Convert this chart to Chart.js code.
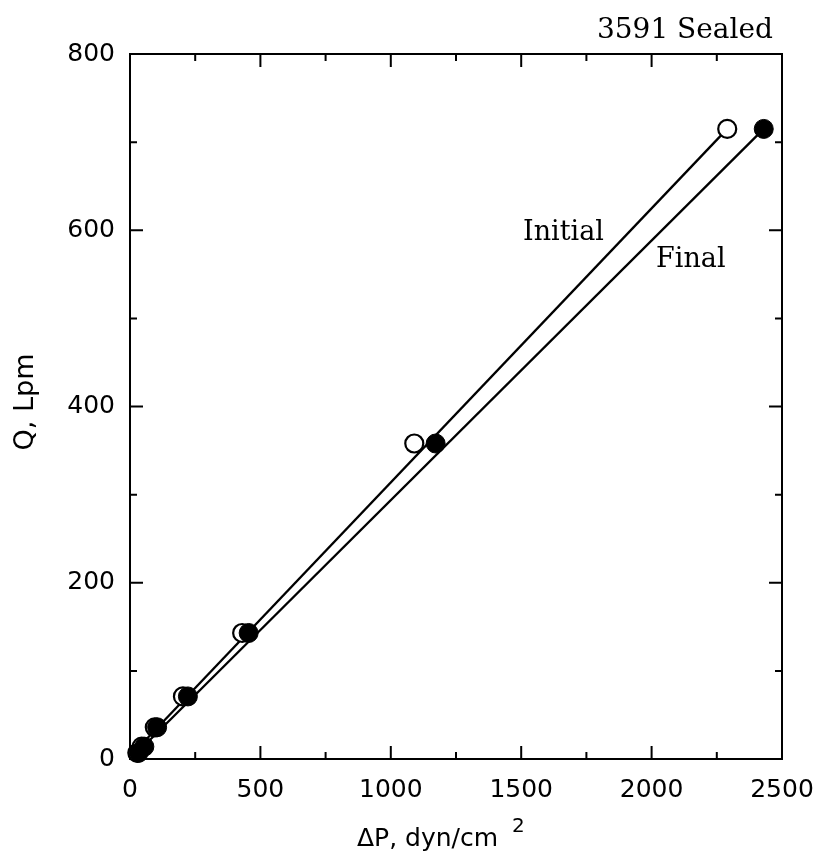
<!DOCTYPE html>
<html>
<head>
<meta charset="utf-8">
<script src="https://cdn.jsdelivr.net/npm/chart.js@4"></script>
<style>
  html, body { margin: 0; padding: 0; background: #fff; }
  #wrap { width: 821px; height: 855px; }
</style>
</head>
<body>
<div id="wrap"><canvas id="chart" width="821" height="855"></canvas></div>
<script>
// flow vs pressure drop
const flowQ = [7, 14, 36, 71, 143, 358, 715];
const initialDP = [28, 45, 95, 203, 430, 1090, 2290];
const finalDP = [33, 55, 104, 222, 455, 1172, 2430];

// straight-line fits, two end points each
const initialFitDP = [20, 2290];
const initialFitQ = [9, 715];
const finalFitDP = [30, 2430];
const finalFitQ = [8, 715];

const xTicks = [0, 500, 1000, 1500, 2000, 2500];
const yTicks = [0, 200, 400, 600, 800];

const pts = (xs, ys) => xs.map((v, i) => ({ x: v, y: ys[i] }));

const SANS = '"DejaVu Sans", sans-serif';
const SERIF = '"DejaVu Serif", serif';

// box, inward ticks on all four sides
const frame = {
  id: 'frame',
  beforeDatasetsDraw(chart) {
    const { ctx, chartArea: a, scales: { x, y } } = chart;
    ctx.save();
    ctx.strokeStyle = '#000';
    ctx.lineWidth = 2;
    ctx.strokeRect(a.left, a.top, a.right - a.left, a.bottom - a.top);
    ctx.beginPath();
    for (let v = 0; v <= 2500; v += 250) {
      const px = x.getPixelForValue(v);
      const len = xTicks.includes(v) ? 13 : 7;
      ctx.moveTo(px, a.bottom); ctx.lineTo(px, a.bottom - len);
      ctx.moveTo(px, a.top); ctx.lineTo(px, a.top + len);
    }
    for (let v = 0; v <= 800; v += 100) {
      const py = y.getPixelForValue(v);
      const len = yTicks.includes(v) ? 13 : 7;
      ctx.moveTo(a.left, py); ctx.lineTo(a.left + len, py);
      ctx.moveTo(a.right, py); ctx.lineTo(a.right - len, py);
    }
    ctx.stroke();
    ctx.restore();
  }
};

const labels = {
  id: 'labels',
  afterDraw(chart) {
    const { ctx, chartArea: a, scales: { x, y } } = chart;
    ctx.save();
    ctx.fillStyle = '#000';

    // axis titles
    ctx.font = '25px ' + SANS;
    ctx.textAlign = 'left';
    ctx.textBaseline = 'alphabetic';
    const xt = 'ΔP, dyn/cm';
    const w = ctx.measureText(xt).width;
    ctx.fillText(xt, 357, 846);
    ctx.font = '20px ' + SANS;
    ctx.fillText('2', 357 + w + 14, 832);

    ctx.font = '27px ' + SANS;
    ctx.translate(33, 402);
    ctx.rotate(-Math.PI / 2);
    ctx.textAlign = 'center';
    ctx.fillText('Q, Lpm', 0, 0);
    ctx.setTransform(1, 0, 0, 1, 0, 0);

    // annotations
    ctx.font = '28px ' + SERIF;
    ctx.textAlign = 'right';
    ctx.fillText('3591 Sealed', 773, 38);
    ctx.font = '27px ' + SERIF;
    ctx.textAlign = 'left';
    ctx.fillText('Initial', x.getPixelForValue(1507), y.getPixelForValue(589));
    ctx.fillText('Final', x.getPixelForValue(2017), y.getPixelForValue(558));
    ctx.restore();
  }
};

new Chart(document.getElementById('chart'), {
  type: 'scatter',
  data: {
    datasets: [
      {
        label: 'Final',
        data: pts(finalDP, flowQ),
        pointRadius: 9.5,
        pointBackgroundColor: '#000',
        pointBorderColor: '#000',
        pointBorderWidth: 1,
        clip: false
      },
      {
        label: 'Initial',
        data: pts(initialDP, flowQ),
        pointRadius: 9,
        pointBackgroundColor: '#fff',
        pointBorderColor: '#000',
        pointBorderWidth: 2.2,
        clip: false
      },
      {
        label: 'Initial fit',
        data: pts(initialFitDP, initialFitQ),
        showLine: true,
        pointRadius: 0,
        borderColor: '#000',
        borderWidth: 2.3
      },
      {
        label: 'Final fit',
        data: pts(finalFitDP, finalFitQ),
        showLine: true,
        pointRadius: 0,
        borderColor: '#000',
        borderWidth: 2.3
      }
    ]
  },
  options: {
    responsive: false,
    animation: false,
    layout: { padding: { top: 54, right: 39, left: 0, bottom: 0 } },
    plugins: {
      legend: { display: false },
      tooltip: { enabled: false }
    },
    scales: {
      x: {
        type: 'linear',
        min: 0,
        max: 2500,
        afterBuildTicks: s => { s.ticks = xTicks.map(v => ({ value: v })); },
        afterFit: s => { s.height = 96; s.paddingLeft = 0; s.paddingRight = 0; },
        grid: { display: false, drawTicks: false },
        border: { display: false },
        ticks: {
          color: '#000', padding: 16, font: { family: SANS, size: 25 },
          callback: v => String(v)
        }
      },
      y: {
        type: 'linear',
        min: 0,
        max: 800,
        afterBuildTicks: s => { s.ticks = yTicks.map(v => ({ value: v })); },
        afterFit: s => { s.width = 130; s.paddingTop = 0; s.paddingBottom = 0; },
        grid: { display: false, drawTicks: false },
        border: { display: false },
        ticks: {
          color: '#000', padding: 15, font: { family: SANS, size: 25 },
          callback: v => String(v)
        }
      }
    }
  },
  plugins: [frame, labels]
});
</script>
</body>
</html>
